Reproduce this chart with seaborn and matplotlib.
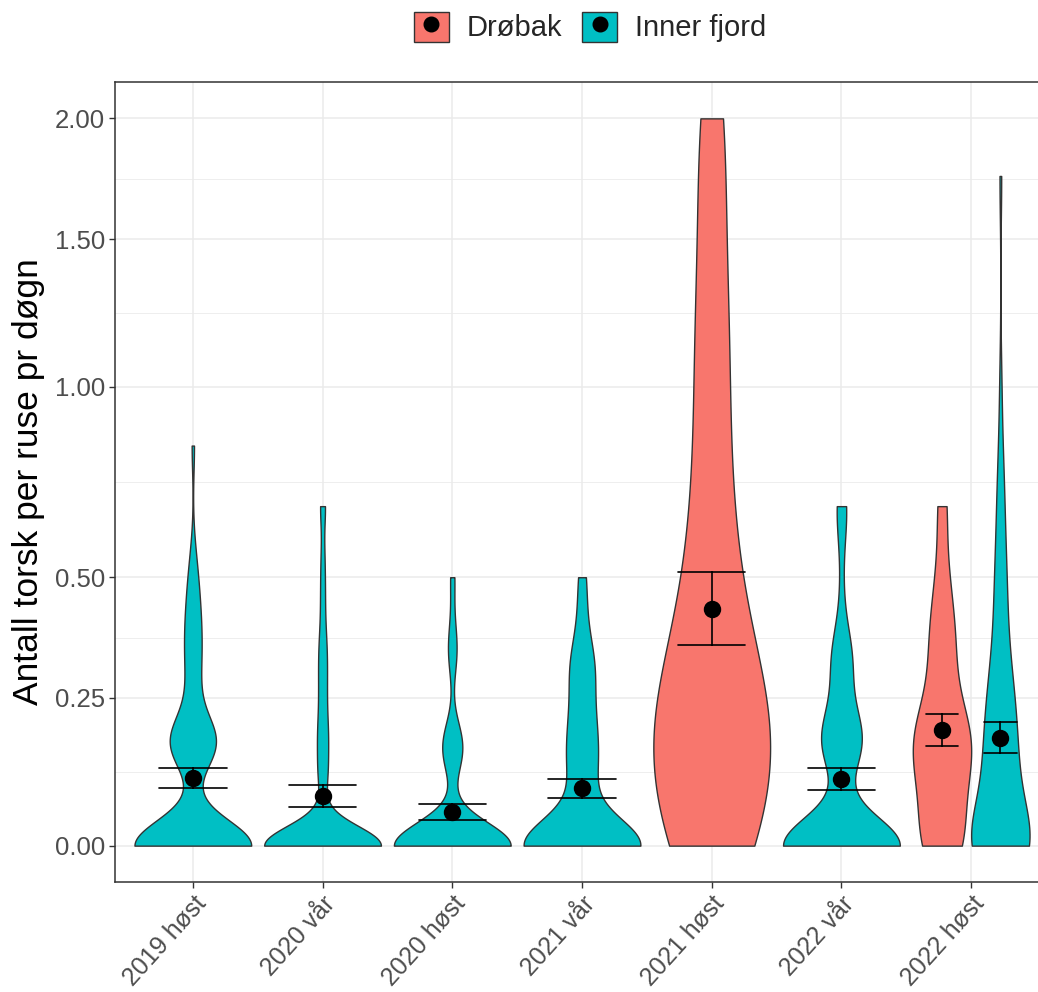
import numpy as np
import pandas as pd
import matplotlib
matplotlib.use("Agg")
import matplotlib.pyplot as plt
import seaborn as sns
from matplotlib.lines import Line2D
from matplotlib.patches import Patch
from matplotlib.legend_handler import HandlerTuple

# ---------------- data ----------------
categories = ["2019 høst", "2020 vår", "2020 høst", "2021 vår", "2021 høst", "2022 vår", "2022 høst"]
areas = ["Drøbak", "Inner fjord"]
area_colors = ["#F8766D", "#00BFC4"]
y_ticks = [0.0, 0.25, 0.5, 1.0, 1.5, 2.0]
y_tick_labels = ["0.00", "0.25", "0.50", "1.00", "1.50", "2.00"]
y_label = "Antall torsk per ruse pr døgn"

# catch per trap per day (distinct values and how many trap-days had them)
inner_2019h_vals = [0, 0.15, 0.17, 0.2, 0.25, 0.3, 0.35, 0.4, 0.45, 0.5, 0.56, 0.83]
inner_2019h_n = [50, 4, 14, 2, 2, 3, 3, 3, 2, 2, 1, 1]

inner_2020v_vals = [0, 0.1, 0.13, 0.17, 0.2, 0.25, 0.3, 0.35, 0.4, 0.45, 0.5, 0.56, 0.67]
inner_2020v_n = [50, 2, 2, 2, 2, 2, 2, 2, 1, 1, 1, 1, 2]

inner_2020h_vals = [0, 0.14, 0.16, 0.18, 0.33, 0.35, 0.4, 0.5]
inner_2020h_n = [60, 3, 5, 3, 2, 2, 1, 2]

inner_2021v_vals = [0, 0.1, 0.13, 0.17, 0.2, 0.25, 0.3, 0.33, 0.4, 0.43, 0.5]
inner_2021v_n = [42, 4, 4, 3, 4, 3, 3, 4, 1, 1, 2]

drobak_2021h_vals = [0, 0.1, 0.17, 0.25, 0.33, 0.5, 0.67, 0.83, 1.0, 1.25, 1.5, 1.75, 2.0]
drobak_2021h_n = [6, 4, 5, 4, 3, 3, 2, 1, 2, 2, 1, 1, 2]

inner_2022v_vals = [0, 0.14, 0.17, 0.2, 0.25, 0.3, 0.33, 0.36, 0.45, 0.57, 0.67]
inner_2022v_n = [42, 4, 7, 4, 2, 2, 3, 2, 1, 1, 3]

drobak_2022h_vals = [0, 0.05, 0.1, 0.14, 0.17, 0.2, 0.25, 0.33, 0.4, 0.5, 0.67]
drobak_2022h_n = [7, 3, 3, 4, 4, 4, 2, 3, 3, 2, 2]

inner_2022h_vals = [0, 0.08, 0.1, 0.14, 0.17, 0.2, 0.25, 0.28, 0.33, 0.4, 0.45, 0.5, 0.57, 0.67, 0.75, 0.82, 1.0, 1.75]
inner_2022h_n = [30, 4, 4, 4, 4, 4, 4, 3, 3, 2, 2, 2, 2, 2, 1, 1, 1, 1]

groups = [
    ("2019 høst", "Inner fjord", inner_2019h_vals, inner_2019h_n),
    ("2020 vår", "Inner fjord", inner_2020v_vals, inner_2020v_n),
    ("2020 høst", "Inner fjord", inner_2020h_vals, inner_2020h_n),
    ("2021 vår", "Inner fjord", inner_2021v_vals, inner_2021v_n),
    ("2021 høst", "Drøbak", drobak_2021h_vals, drobak_2021h_n),
    ("2022 vår", "Inner fjord", inner_2022v_vals, inner_2022v_n),
    ("2022 høst", "Drøbak", drobak_2022h_vals, drobak_2022h_n),
    ("2022 høst", "Inner fjord", inner_2022h_vals, inner_2022h_n),
]

rows = []
for period, area, vals, ns in groups:
    for v, k in zip(vals, ns):
        rows += [(period, area, v)] * k
df = pd.DataFrame(rows, columns=["periode", "område", "verdi"])
# log1p-transformed axis (as in the original scale)
df["ty"] = np.log1p(df["verdi"])


def nrd0(kde):
    """R's bw.nrd0 bandwidth, returned as a scipy factor."""
    x = np.asarray(kde.dataset).ravel()
    n = x.size
    hi = np.std(x, ddof=1)
    q75, q25 = np.percentile(x, [75, 25])
    lo = min(hi, (q75 - q25) / 1.34)
    if not lo > 0:
        lo = hi if hi > 0 else (abs(x[0]) if x[0] != 0 else 1.0)
    return 0.9 * lo * n ** -0.2 / hi


palette = dict(zip(areas, area_colors))
black = {a: "black" for a in areas}

# ---------------- figure ----------------
sns.set_theme(style="white")
plt.rcParams["font.family"] = ["Liberation Sans", "DejaVu Sans"]

fig = plt.figure(figsize=(10.38, 9.92), dpi=100)
ax = fig.add_axes([115 / 1038, 1 - 882 / 992, (1049 - 115) / 1038, (882 - 82) / 992])

single = df[df["periode"] != "2022 høst"]
double = df[df["periode"] == "2022 høst"]

vkw = dict(x="periode", y="ty", hue="område", order=categories, hue_order=areas,
           palette=palette, density_norm="width", cut=0, bw_method=nrd0, bw_adjust=0.9,
           gridsize=300, inner=None, linecolor="#333333", linewidth=1.0, width=0.9,
           saturation=1, legend=False, ax=ax)
sns.violinplot(data=single, dodge=False, **vkw)
sns.violinplot(data=double, dodge=True, **vkw)

pkw = dict(x="periode", y="ty", hue="område", order=categories, hue_order=areas,
           palette=black, errorbar="se", linestyle="none", markers="o", markersize=10.5,
           err_kws={"linewidth": 1.2}, legend=False, ax=ax)
sns.pointplot(data=single, dodge=False, capsize=0.52, **pkw)
sns.pointplot(data=double, dodge=0.45, capsize=0.25, **pkw)

# axes styling (ggplot theme_bw look)
ax.set_xlim(-0.6, 6.6)
ymax = np.log1p(2.0)
ax.set_ylim(-0.05 * ymax, 1.05 * ymax)
major = np.log1p(y_ticks)
ax.set_yticks(major)
ax.set_yticklabels(y_tick_labels)
ax.set_yticks((major[:-1] + major[1:]) / 2, minor=True)
ax.set_xticks(range(len(categories)))
ax.set_xticklabels(categories, rotation=48, ha="right", va="top", rotation_mode="anchor")

ax.grid(True, which="major", color="#EBEBEB", linewidth=1.1)
ax.grid(True, which="minor", axis="y", color="#EBEBEB", linewidth=0.6)
ax.set_axisbelow(True)
for s in ax.spines.values():
    s.set_color("#333333")
    s.set_linewidth(1.1)
ax.tick_params(axis="y", which="major", length=4, width=1.0, color="#333333",
               labelcolor="#4D4D4D", labelsize=18.5, pad=3, left=True)
ax.tick_params(axis="x", which="major", length=4, width=1.0, color="#333333",
               labelcolor="#4D4D4D", labelsize=18, pad=3, bottom=True)
ax.tick_params(axis="y", which="minor", length=0)
ax.set_xlabel("")
ax.set_ylabel(y_label, fontsize=25.5, color="black", labelpad=7)

handles = [(Patch(facecolor=c, edgecolor="#333333", linewidth=1.0),
            Line2D([], [], marker="o", color="black", linestyle="none", markersize=10.5))
           for c in area_colors]
fig.legend(handles, areas, handler_map={tuple: HandlerTuple(ndivide=1, pad=0)},
           loc="center", bbox_to_anchor=(590 / 1038, 1 - 27 / 992), ncol=2, frameon=False,
           fontsize=21, handlelength=1.2, handleheight=1.2, columnspacing=0.7,
           handletextpad=0.6, borderaxespad=0.0, borderpad=0.0)

fig.savefig("out.png", dpi=100)
